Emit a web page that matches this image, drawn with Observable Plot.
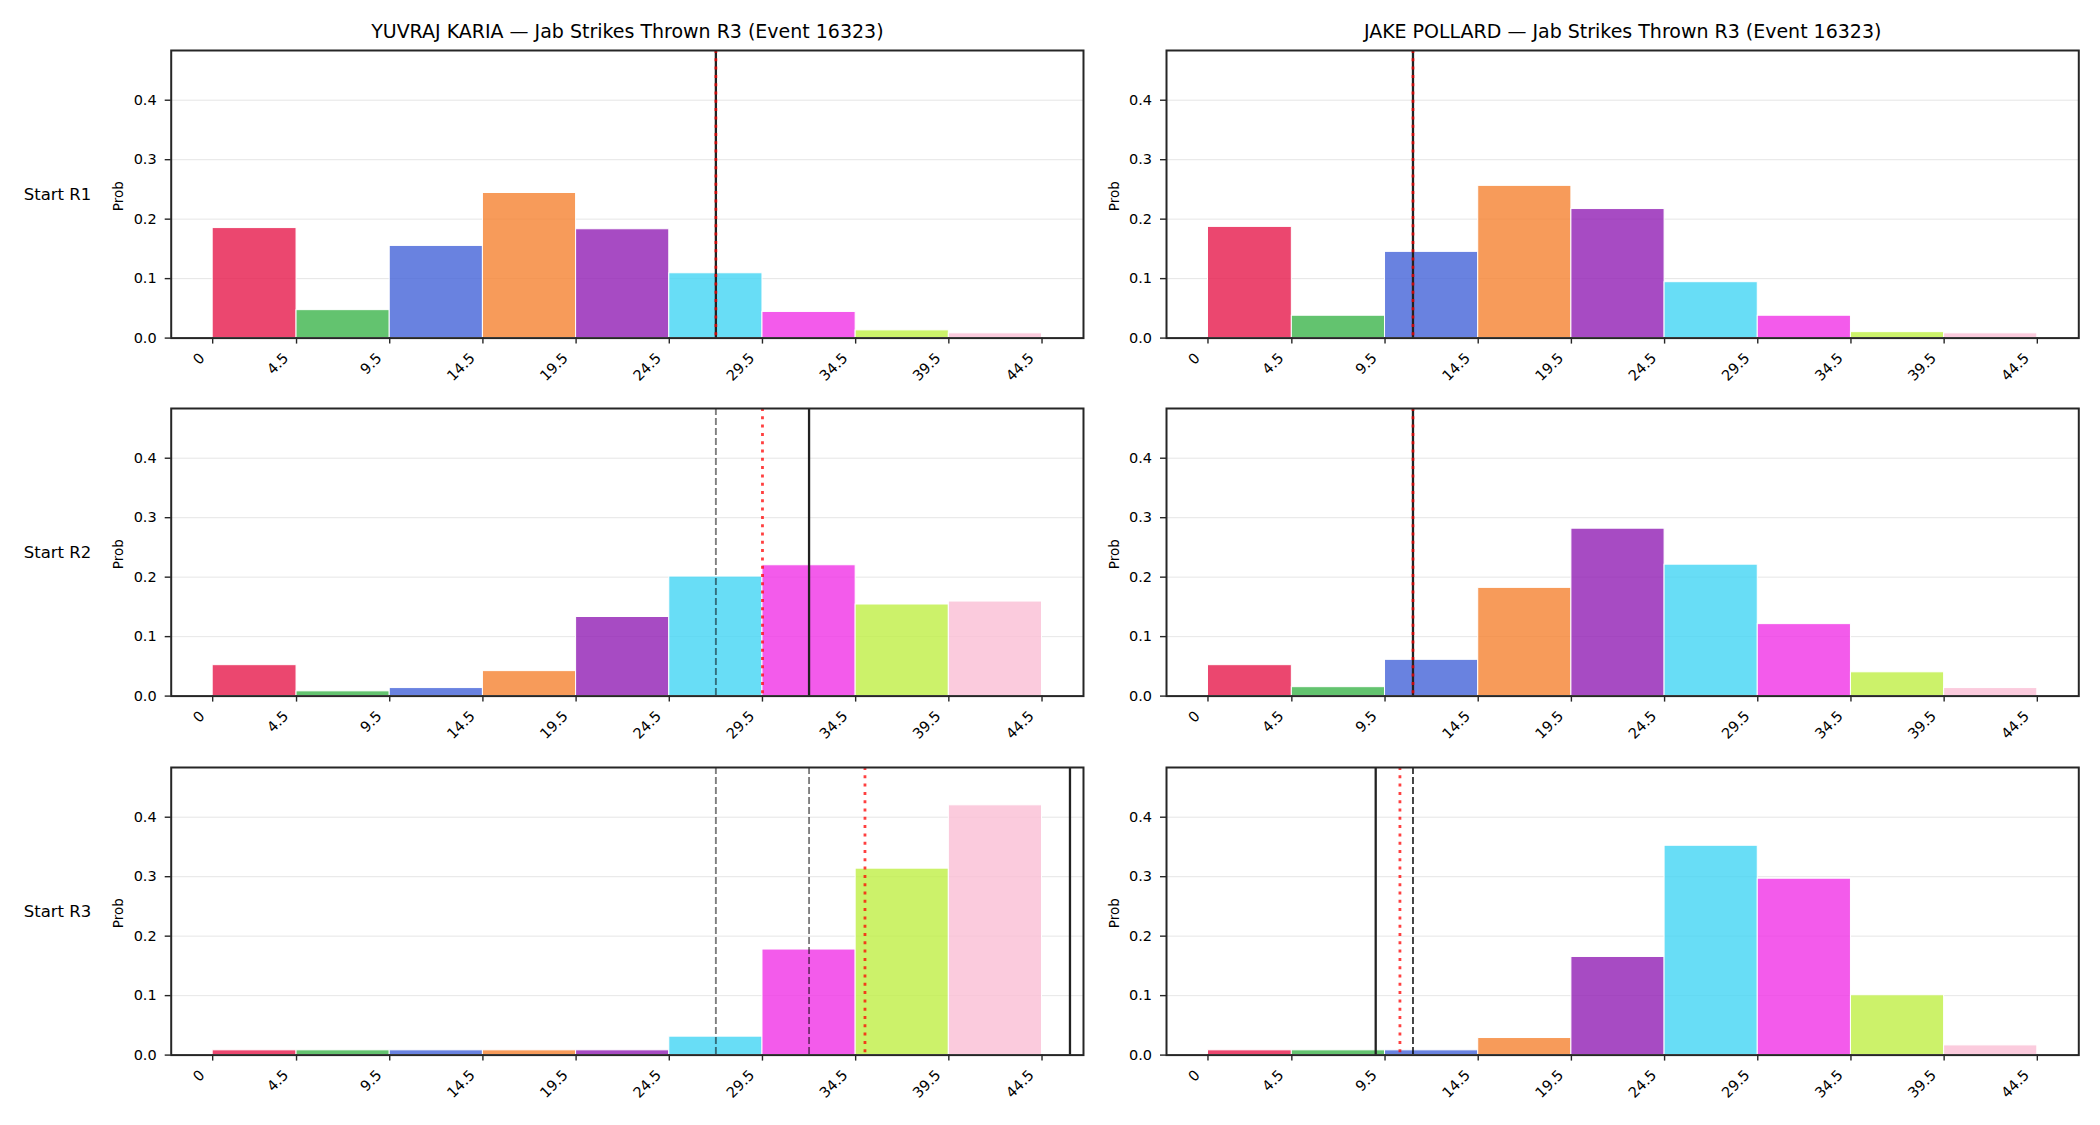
<!DOCTYPE html>
<html>
<head>
<meta charset="utf-8">
<script src="https://cdn.jsdelivr.net/npm/d3@7"></script>
<script src="https://cdn.jsdelivr.net/npm/@observablehq/plot@0.6"></script>
<style>
  html, body { margin: 0; padding: 0; background: #ffffff; }
  #chart { position: relative; width: 2100px; height: 1125px; overflow: hidden; background: #ffffff; }
  #chart svg { position: absolute; }
</style>
</head>
<body>
<div id="chart"></div>
<script>
// Fighters, rounds and histogram bins
const fighters = ["YUVRAJ KARIA", "JAKE POLLARD"];
const statTitle = "Jab Strikes Thrown R3 (Event 16323)";
const rowLabels = ["Start R1", "Start R2", "Start R3"];
const binEdges = [0, 4.5, 9.5, 14.5, 19.5, 24.5, 29.5, 34.5, 39.5, 44.5];
const binColors = ["#e6194b", "#3cb44b", "#4363d8", "#f58231", "#911eb4", "#42d4f4", "#f032e6", "#bfef45", "#fabed4"];
const xTicks = [0, 4.5, 9.5, 14.5, 19.5, 24.5, 29.5, 34.5, 39.5, 44.5];
const yTicks = [0, 0.1, 0.2, 0.3, 0.4];

// Probability per bin, Yuvraj Karia
const kariaR1 = [0.185, 0.047, 0.155, 0.244, 0.183, 0.109, 0.044, 0.013, 0.008];
const kariaR2 = [0.052, 0.008, 0.0135, 0.042, 0.133, 0.201, 0.220, 0.154, 0.159];
const kariaR3 = [0.008, 0.008, 0.008, 0.008, 0.008, 0.031, 0.1775, 0.3135, 0.420];
// Probability per bin, Jake Pollard
const pollardR1 = [0.187, 0.0376, 0.145, 0.256, 0.217, 0.094, 0.0376, 0.010, 0.008];
const pollardR2 = [0.052, 0.015, 0.061, 0.182, 0.2815, 0.221, 0.121, 0.040, 0.0135];
const pollardR3 = [0.008, 0.008, 0.008, 0.0287, 0.165, 0.352, 0.2966, 0.1006, 0.0163];

// Reference lines per round: current line (solid), model centre (dotted), earlier lines (dashed)
const kariaLine = [27, 32, 46];
const kariaCentre = [27, 29.5, 35];
const kariaEarlier = [[], [27], [27, 32]];
const pollardLine = [11, 11, 9];
const pollardCentre = [11, 11, 10.3];
const pollardEarlier = [[], [11], [11, 11]];

const kariaRounds = [kariaR1, kariaR2, kariaR3];
const pollardRounds = [pollardR1, pollardR2, pollardR3];

const FONT = "DejaVu Sans, sans-serif";
const INK = "#262626";
const frameW = 912.3;
const frameH = 287.6;
const mTop = 50;
const mBottom = 60;
const rowTops = [50, 408.3, 766.6];
const fmtX = d => String(d);

function panel({probs, line, centre, earlier, title, rowLabel, svgLeft, svgWidth, marginLeft}) {
  const bins = probs.map((p, i) => ({x1: binEdges[i], x2: binEdges[i + 1], p, color: binColors[i]}));
  const marks = [
    Plot.gridY(yTicks, {stroke: "#b0b0b0", strokeOpacity: 0.32, strokeWidth: 1}),
    Plot.rectY(bins, {x1: "x1", x2: "x2", y: "p", fill: "color", fillOpacity: 0.8, stroke: "white", strokeWidth: 1}),
    Plot.ruleX(earlier, {stroke: "black", strokeOpacity: 0.5, strokeWidth: 1.9, strokeDasharray: "7,3"}),
    Plot.ruleX([line], {stroke: "#222222", strokeWidth: 2.3}),
    Plot.ruleX([centre], {stroke: "red", strokeOpacity: 0.75, strokeWidth: 2.8, strokeDasharray: "3,5.3"}),
    Plot.frame({stroke: INK, strokeWidth: 2}),
    Plot.axisY(yTicks, {tickSize: 6, tickPadding: 8.5, strokeWidth: 1.4, tickFormat: d3.format(".1f"), label: null, fill: "black", fontSize: 14.5}),
    Plot.axisX(xTicks, {tickSize: 6, strokeWidth: 1.4, fill: "none", label: null}),
    Plot.axisX(xTicks, {tickSize: 0, tickRotate: -45, tickPadding: 17.5, dx: -10.5, tickFormat: fmtX, label: null, fill: "black", fontSize: 14.5}),
    Plot.text(["Prob"], {text: d => d, frameAnchor: "left", rotate: -90, dx: -48, dy: 2, lineAnchor: "bottom", textAnchor: "middle", fontSize: 13.5, fill: "black"})
  ];
  if (title) {
    marks.push(Plot.text([title], {text: d => d, frameAnchor: "top", lineAnchor: "bottom", dy: -12.7, fontSize: 19, fill: "black"}));
  }
  if (rowLabel) {
    marks.push(Plot.text([rowLabel], {text: d => d, frameAnchor: "left", textAnchor: "start", lineAnchor: "middle", dx: -147.4, fontSize: 16.5, fill: "black"}));
  }
  const svg = Plot.plot({
    width: svgWidth,
    height: mTop + frameH + mBottom,
    marginLeft,
    marginRight: svgWidth - marginLeft - frameW,
    marginTop: mTop,
    marginBottom: mBottom,
    style: {background: "transparent", overflow: "visible", fontFamily: FONT, fontSize: "14px", color: INK},
    x: {domain: [-2.225, 46.725]},
    y: {domain: [0, 0.4836]},
    color: {type: "identity"},
    marks
  });
  svg.style.left = svgLeft + "px";
  return svg;
}

const chart = document.getElementById("chart");
for (let r = 0; r < 3; r++) {
  const left = panel({
    probs: kariaRounds[r], line: kariaLine[r], centre: kariaCentre[r], earlier: kariaEarlier[r],
    title: r === 0 ? `${fighters[0]} — ${statTitle}` : null,
    rowLabel: rowLabels[r],
    svgLeft: 0, svgWidth: 1100, marginLeft: 170.7
  });
  left.style.top = (rowTops[r] - mTop) + "px";
  chart.appendChild(left);

  const right = panel({
    probs: pollardRounds[r], line: pollardLine[r], centre: pollardCentre[r], earlier: pollardEarlier[r],
    title: r === 0 ? `${fighters[1]} — ${statTitle}` : null,
    rowLabel: null,
    svgLeft: 1100, svgWidth: 1000, marginLeft: 66
  });
  right.style.top = (rowTops[r] - mTop) + "px";
  chart.appendChild(right);
}
</script>
</body>
</html>
